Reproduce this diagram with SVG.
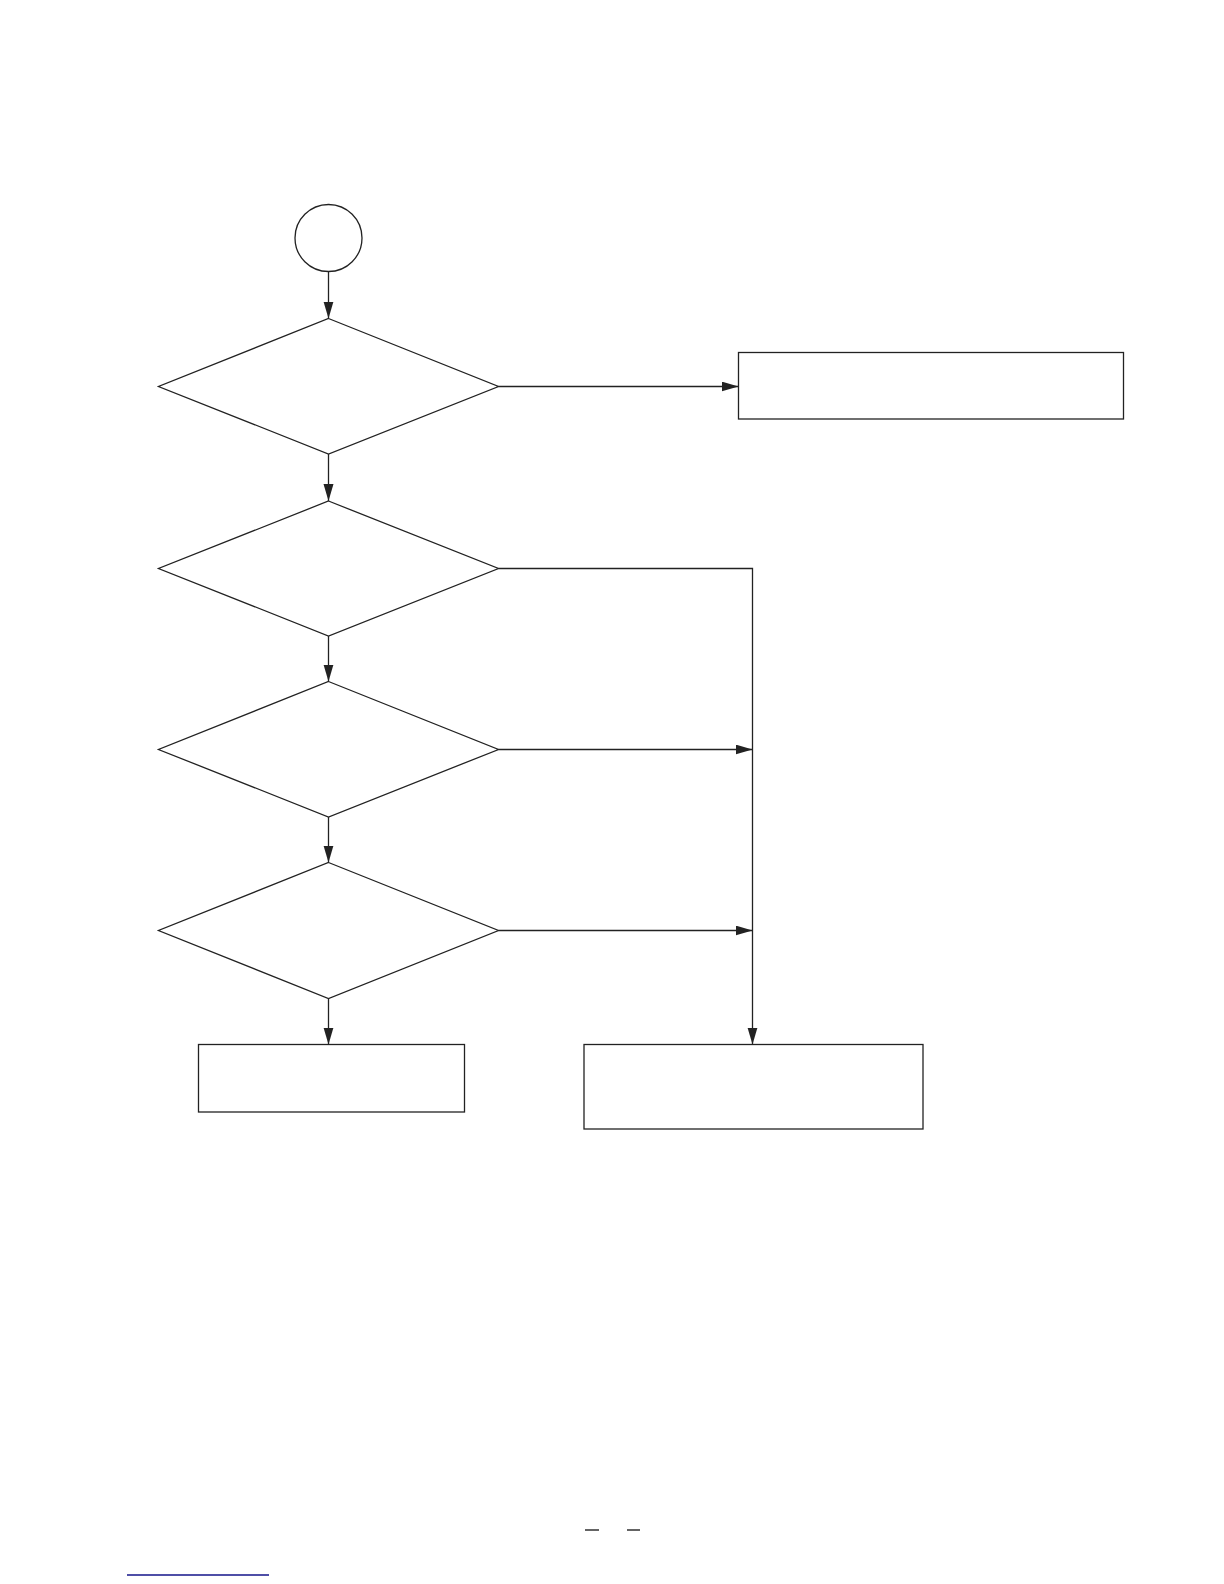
<svg xmlns="http://www.w3.org/2000/svg" width="1224" height="1584" viewBox="0 0 1224 1584">
  <style>
    .shape { fill: #ffffff; stroke: #222222; stroke-width: 1.3; }
    .conn { fill: none; stroke: #222222; stroke-width: 1.3; }
  </style>
  <defs>
    <marker id="arrow" markerUnits="userSpaceOnUse" markerWidth="18" markerHeight="12" refX="17" refY="5" orient="auto">
      <path d="M0,0 L17,5 L0,10 Z" fill="#222222"/>
    </marker>
  </defs>
  <rect width="1224" height="1584" fill="#ffffff"/>

  <g id="start">
    <circle class="shape" cx="328.5" cy="238" r="33.5"/>
  </g>
  <g id="decision1">
    <polygon class="shape" points="328.5,318.5 498.5,386.5 328.5,454 158.5,386.5"/>
  </g>
  <g id="box-top-right">
    <rect class="shape" x="738.5" y="352.5" width="385" height="66.5"/>
  </g>
  <g id="decision2">
    <polygon class="shape" points="328.5,501 498.5,568.5 328.5,636 158.5,568.5"/>
  </g>
  <g id="decision3">
    <polygon class="shape" points="328.5,681.5 498.5,749.5 328.5,817 158.5,749.5"/>
  </g>
  <g id="decision4">
    <polygon class="shape" points="328.5,862.5 498.5,930.5 328.5,998.5 158.5,930.5"/>
  </g>
  <g id="box-bottom-left">
    <rect class="shape" x="198.5" y="1044.5" width="266" height="67.5"/>
  </g>
  <g id="box-bottom-right">
    <rect class="shape" x="584" y="1044.5" width="339" height="84.5"/>
  </g>

  <g id="connectors">
    <line class="conn" x1="328.5" y1="271.5" x2="328.5" y2="318.5" marker-end="url(#arrow)"/>
    <line class="conn" x1="498.5" y1="386.5" x2="738.5" y2="386.5" marker-end="url(#arrow)"/>
    <line class="conn" x1="328.5" y1="454" x2="328.5" y2="501" marker-end="url(#arrow)"/>
    <line class="conn" x1="328.5" y1="636" x2="328.5" y2="681.5" marker-end="url(#arrow)"/>
    <line class="conn" x1="328.5" y1="817" x2="328.5" y2="862.5" marker-end="url(#arrow)"/>
    <line class="conn" x1="328.5" y1="998.5" x2="328.5" y2="1044.5" marker-end="url(#arrow)"/>
    <polyline class="conn" points="498.5,568.5 752.5,568.5 752.5,1044.5" marker-end="url(#arrow)"/>
    <line class="conn" x1="498.5" y1="749.5" x2="752.5" y2="749.5" marker-end="url(#arrow)"/>
    <line class="conn" x1="498.5" y1="930.5" x2="752.5" y2="930.5" marker-end="url(#arrow)"/>
  </g>

  <g id="footer">
    <line x1="585" y1="1530" x2="599" y2="1530" stroke="#222222" stroke-width="1.4"/>
    <line x1="627" y1="1530" x2="640" y2="1530" stroke="#222222" stroke-width="1.4"/>
    <line x1="127" y1="1575" x2="269" y2="1575" stroke="#14148a" stroke-width="1.6"/>
  </g>
</svg>
